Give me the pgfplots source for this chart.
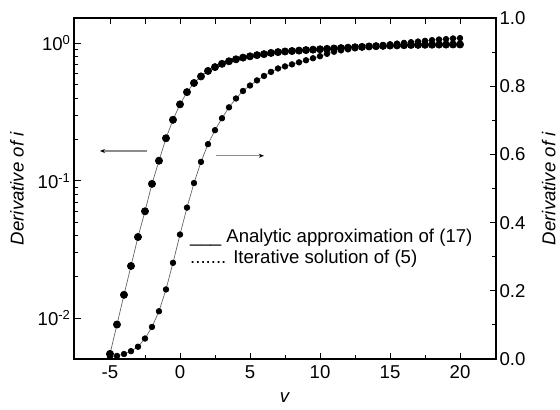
\documentclass[border=0pt]{standalone}
\usepackage{fontspec}
\setmainfont{Liberation Sans}
\usepackage{pgfplots}
\usepackage{pgfplotstable}
\pgfplotsset{compat=1.18}
\usetikzlibrary{arrows.meta,calc}

\pgfplotstableread{
v y
-5 0.0055
-4.5 0.0090
-4 0.0148
-3.5 0.024
-3 0.039
-2.5 0.060
-2 0.095
-1.5 0.140
-1 0.204
-0.5 0.278
0 0.360
0.5 0.442
1 0.515
1.5 0.575
2 0.630
2.5 0.672
3 0.710
3.5 0.741
4 0.766
4.5 0.788
5 0.805
5.5 0.821
6 0.835
6.5 0.852
7 0.864
7.5 0.873
8 0.880
8.5 0.886
9 0.894
9.5 0.900
10 0.906
10.5 0.912
11 0.918
11.5 0.924
12 0.930
12.5 0.937
13 0.943
13.5 0.950
14 0.954
14.5 0.959
15 0.964
15.5 0.967
16 0.970
16.5 0.974
17 0.975
17.5 0.977
18 0.978
18.5 0.980
19 0.980
19.5 0.982
20 0.982
}\logdata

\pgfplotstableread{
v y
-5 0.007
-4.5 0.009
-4 0.0146
-3.5 0.023
-3 0.036
-2.5 0.060
-2 0.094
-1.5 0.140
-1 0.204
-0.5 0.282
0 0.365
0.5 0.444
1 0.516
1.5 0.578
2 0.630
2.5 0.671
3 0.706
3.5 0.738
4 0.764
4.5 0.786
5 0.802
5.5 0.817
6 0.830
6.5 0.842
7 0.852
7.5 0.858
8 0.864
8.5 0.870
9 0.876
9.5 0.882
10 0.888
10.5 0.895
11 0.901
11.5 0.905
12 0.908
12.5 0.911
13 0.914
13.5 0.917
14 0.919
14.5 0.921
15 0.923
15.5 0.925
16 0.927
16.5 0.929
17 0.931
17.5 0.933
18 0.935
18.5 0.937
19 0.938
19.5 0.940
20 0.941
}\lindata

\newcommand{\chartfont}{\fontsize{18.6bp}{21.5bp}\selectfont}

\pgfplotsset{
  myax/.style={
    scale only axis, width=422bp, height=341bp,
    xmin=-7.57, xmax=22.57,
    tick align=inside,
    major tick length=6.5bp, minor tick length=4bp,
    every tick/.style={black, line width=0.9bp},
    axis line style={black, line width=1.3bp},
    tick label style={font=\chartfont},
    label style={font=\chartfont},
    /pgf/number format/assume math mode=true,
  }
}

\begin{document}
\begin{tikzpicture}[font=\chartfont]
\begin{axis}[myax,
  ymode=log, ymin=0.00505, ymax=1.53,
  xtick={-5,0,5,10,15,20}, minor x tick num=1,
  xtick pos=bottom, ytick pos=left,
  ytick={0.01,0.1,1},
  yticklabels={10\textsuperscript{-2},10\textsuperscript{-1},10\textsuperscript{0}},
  xticklabel style={yshift=-3bp},
  ylabel={\textit{Derivative of i}},
  xlabel={\textit{v}},
  ylabel style={at={(axis description cs:-0.135,0.5)}, anchor=center},
  xlabel style={at={(axis description cs:0.5,-0.113)}, anchor=center},
]
\addplot[color=black!60, line width=0.7bp, mark=*, mark size=3.6bp,
  mark options={solid, draw=black, fill=black}] table[x=v,y=y] {\logdata};
\node[anchor=base west, inner sep=0pt] at (rel axis cs:0.2749,0.3431) {\_\_\_ Analytic approximation of (17)};
\node[anchor=base west, inner sep=0pt] at (rel axis cs:0.2749,0.2815) {....... Iterative solution of (5)};
\draw[color=black!45, line width=1.4bp, -{Stealth[length=5bp,width=4bp,black]}] (rel axis cs:0.173,0.61) -- (rel axis cs:0.0616,0.61);
\draw[color=black!45, line width=1.4bp, -{Stealth[length=5bp,width=4bp,black]}] (rel axis cs:0.3365,0.596) -- (rel axis cs:0.450,0.596);
\end{axis}
\begin{axis}[myax,
  ymin=0, ymax=1,
  xtick={-5,-2.5,...,20}, xticklabels={}, xtick pos=top,
  ytick={0,0.2,0.4,0.6,0.8,1.0}, minor y tick num=1,
  ytick pos=right, yticklabel pos=right,
  yticklabel style={/pgf/number format/.cd, fixed, fixed zerofill, precision=1},
  ylabel={\textit{Derivative of i}},
  ylabel style={at={(axis description cs:1.125,0.5)}, anchor=center, rotate=0},
]
\addplot[color=black!60, line width=0.7bp, mark=*, mark size=2.8bp,
  mark options={solid, draw=black, fill=black}] table[x=v,y=y] {\lindata};
\coordinate (ll) at (rel axis cs:0,0);
\coordinate (ur) at (rel axis cs:1,1);
\end{axis}
\pgfresetboundingbox
\path[use as bounding box] ($(ll)+(-74bp,-51bp)$) rectangle ($(ur)+(64bp,18bp)$);
\end{tikzpicture}
\end{document}
